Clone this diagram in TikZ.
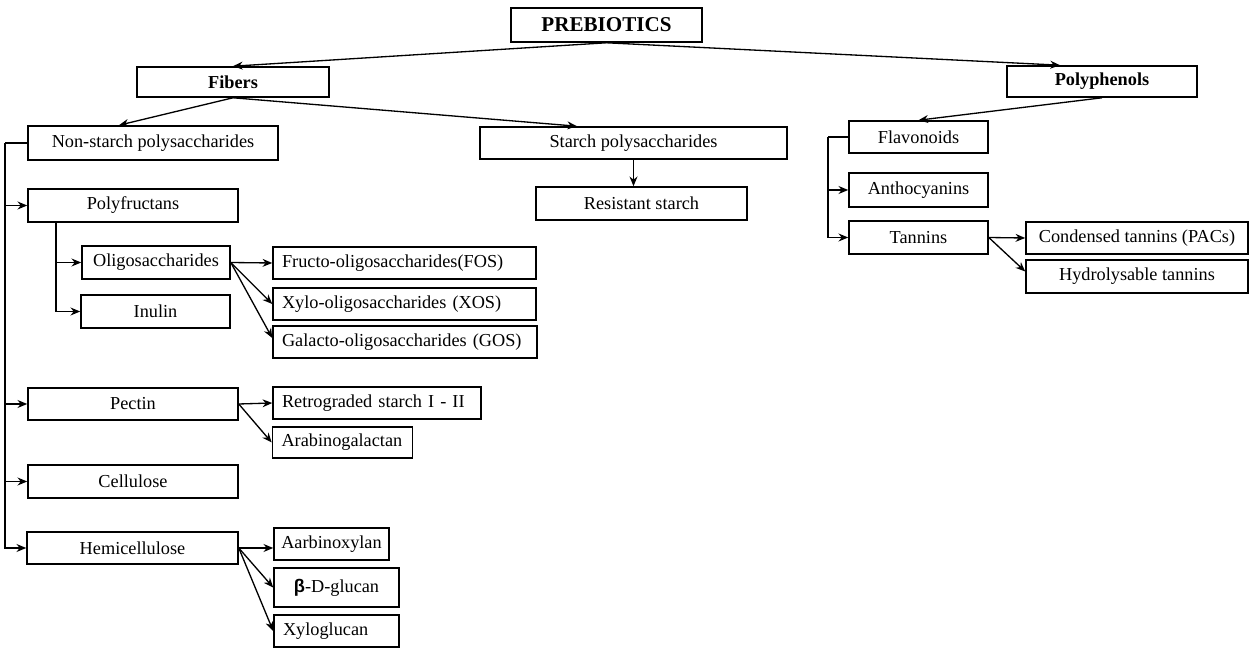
\documentclass[tikz,border=0pt]{standalone}
\usepackage{fontspec}
\setmainfont{Liberation Serif}
\newfontfamily\betafont{Liberation Sans}
\usetikzlibrary{arrows.meta}

\begin{document}
\begin{tikzpicture}[x=0.02cm, y=-0.02cm, >={Stealth[length=5.5pt, width=4.5pt]},
		box/.style={draw, rectangle, line width=0.9pt, inner sep=0pt, minimum height=0.66cm, align=center, font=\fontsize{10.4}{12}\selectfont},
		lbox/.style={box, align=left, inner xsep=0.18cm},
		conn/.style={->, line width=0.75pt}]
				\useasboundingbox (0,0) rectangle (1249,648);
				% top level
				\node[box, minimum width=3.82cm, minimum height=0.68cm, font=\fontsize{12}{14}\selectfont\bfseries] (pre)at(606.5, 25) {PREBIOTICS};
				\node[box, minimum width=3.84cm, minimum height=0.6cm, font=\fontsize{10.4}{12}\selectfont\bfseries] (fib)at(233, 82) {Fibers};
				\node[box, minimum width=3.80cm, minimum height=0.62cm, font=\fontsize{10.4}{12}\selectfont\bfseries] (pol)at(1102, 81.5) {Polyphenols};
				% fibers
				\node[box, minimum width=5.0cm, minimum height=0.68cm] (nsp)at(153, 143) {Non-starch polysaccharides};
				\node[box, minimum width=6.14cm, minimum height=0.64cm] (sp)at(633.5, 143) {Starch polysaccharides};
				\node[box, minimum width=4.22cm] (rs)at(641.5, 203.5) {Resistant starch};
				\node[box, minimum width=4.2cm] (poly)at(133, 205.5) {Polyfructans};
				\node[box, minimum width=2.96cm] (oli)at(156, 262.5) {Oligosaccharides};
				\node[box, minimum width=2.98cm] (inu)at(155.5, 311.5) {Inulin};
				\node[lbox, text width=4.90cm, minimum height=0.64cm] (fos)at(404.5, 263) {Fructo-oligosaccharides(FOS)};
				\node[lbox, text width=4.90cm, minimum height=0.64cm] (xos)at(404.5, 304) {Xylo-oligosaccharides (XOS)};
				\node[lbox, text width=4.92cm, minimum height=0.64cm] (gos)at(405, 342) {Galacto-oligosaccharides (GOS)};
				\node[box, minimum width=4.2cm, minimum height=0.64cm] (pec)at(133, 404) {Pectin};
				\node[lbox, text width=3.80cm, minimum height=0.64cm] (ret)at(377, 403) {Retrograded starch I - II};
				\node[lbox, text width=2.44cm, minimum height=0.62cm] (arab)at(342.5, 442.5) {Arabinogalactan};
				\node[box, minimum width=4.2cm] (cel)at(133, 481.5) {Cellulose};
				\node[box, minimum width=4.22cm, minimum height=0.64cm] (hemi)at(132.5, 548) {Hemicellulose};
				\node[box, minimum width=2.30cm, minimum height=0.64cm] (aar)at(331.5, 544) {Aarbinoxylan};
				\node[box, minimum width=2.50cm, minimum height=0.78cm] (beta)at(336.5, 587.5) {{\betafont\bfseries β}-D-glucan};
				\node[lbox, text width=2.14cm, minimum height=0.64cm] (xyl)at(336.5, 631) {Xyloglucan};
				% polyphenols
				\node[box, minimum width=2.78cm, minimum height=0.64cm] (flav)at(918.5, 137) {Flavonoids};
				\node[box, minimum width=2.78cm, minimum height=0.68cm] (ant)at(918.5, 190) {Anthocyanins};
				\node[box, minimum width=2.78cm] (tan)at(918.5, 237.5) {Tannins};
				\node[box, minimum width=4.44cm, minimum height=0.64cm] (cond)at(1137, 238) {Condensed tannins (PACs)};
				\node[box, minimum width=4.44cm] (hyd)at(1137, 276.5) {Hydrolysable tannins};
				% bracket corners
				\coordinate (nspl)at(5, 143);
				\coordinate (pfl)at(56, 222);
				\coordinate (flvl)at(828, 137);
				% connectors
				\draw[conn] (pre.south) -- (fib.north);
				\draw[conn] (pre.south) -- ([xshift=-0.84cm]pol.north);
				\draw[conn] (fib.south) -- ([xshift=-0.68cm]nsp.north);
				\draw[conn] (fib.south) -- ([xshift=-1.13cm]sp.north);
				\draw[conn] (sp.south) -- (sp.south |- rs.north);
				\draw[line width=0.75pt] (nsp.west) -- (nspl);
				\draw[conn] (nspl) |- (poly.west);
				\draw[conn] (nspl) |- (pec.west);
				\draw[conn] (nspl) |- (cel.west);
				\draw[conn] (nspl) |- (hemi.west);
				\draw[conn] (pfl) |- (oli.west);
				\draw[conn] (pfl) |- (inu.west);
				\draw[conn] (oli.east) -- (fos.west);
				\draw[conn] (oli.east) -- (xos.west);
				\draw[conn] (oli.east) -- ([yshift=0.08cm]gos.west);
				\draw[conn] (pec.east) -- (ret.west);
				\draw[conn] (pec.east) -- (arab.west);
				\draw[conn] (hemi.east) -- (hemi.east -| aar.west);
				\draw[conn] (hemi.east) -- (beta.west);
				\draw[conn] (hemi.east) -- (xyl.west);
				\draw[conn] (pol.south) -- (flav.north);
				\draw[line width=0.75pt] (flav.west) -- (flvl);
				\draw[conn] (flvl) |- (ant.west);
				\draw[conn] (flvl) |- (tan.west);
				\draw[conn] (tan.east) -- (cond.west);
				\draw[conn] (tan.east) -- ([yshift=0.1cm]hyd.west);
			\end{tikzpicture}
\end{document}
